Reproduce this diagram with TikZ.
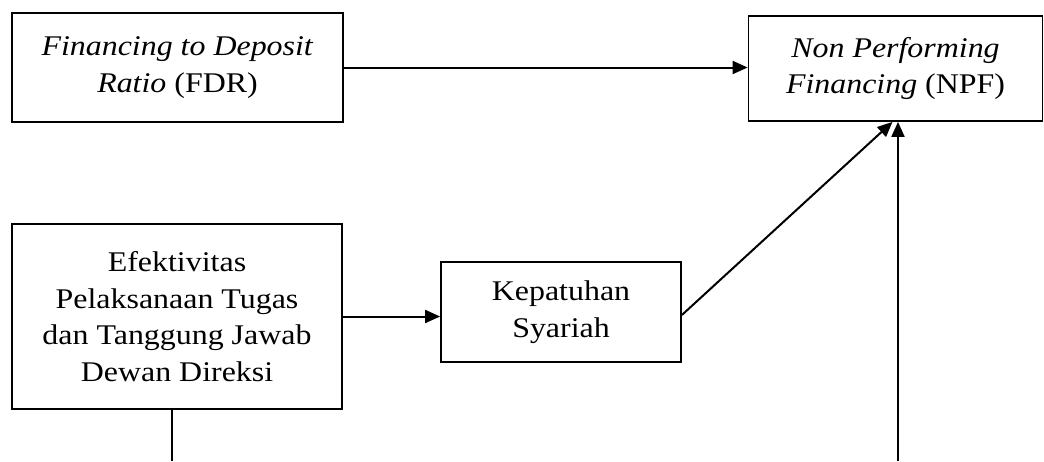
\documentclass[tikz,border=0pt]{standalone}
\usepackage{fontspec}
\setmainfont{Liberation Serif}[FakeStretch=1.12]
\usetikzlibrary{arrows.meta}
\begin{document}
\begin{tikzpicture}[x=1pt,y=-1pt,
  box/.style={draw,line width=1.8pt,rectangle,align=center,inner sep=0pt,
    font=\fontsize{28.5}{36.5}\selectfont},
  link/.style={line width=2pt,-{Triangle[length=15pt,width=13pt]}},
  plain/.style={line width=2pt}]
\useasboundingbox (0,0) rectangle (1044,461);
\fill[white] (0,0) rectangle (1044,461);
% variables
\node[box,minimum width=331pt,minimum height=109pt] (fdr) at (177.5,67.5)
  {\textit{Financing to Deposit}\\\textit{Ratio} (FDR)};
\node[box,minimum width=294pt,minimum height=105pt] (npf) at (895.5,68.5)
  {\textit{Non Performing}\\\textit{Financing} (NPF)};
\node[box,minimum width=330pt,minimum height=185pt] (efk) at (177,316.5)
  {Efektivitas\\Pelaksanaan Tugas\\dan Tanggung Jawab\\Dewan Direksi};
\node[box,minimum width=240pt,minimum height=100pt] (kep) at (561,312)
  {Kepatuhan\\Syariah};
% free ends at the lower edge
\coordinate (efkdown) at (172,461);
\coordinate (npfup) at (898,461);
% relations
\draw[link] (fdr.east) -- (fdr.east -| npf.west);
\draw[link] (efk.east) -- (efk.east -| kep.west);
\draw[link] ([yshift=-3pt]kep.east) -- ([xshift=-3pt]npf.south);
\draw[link] (npfup) -- (npfup |- npf.south);
\draw[plain] (efk.south -| efkdown) -- (efkdown);
\end{tikzpicture}
\end{document}
